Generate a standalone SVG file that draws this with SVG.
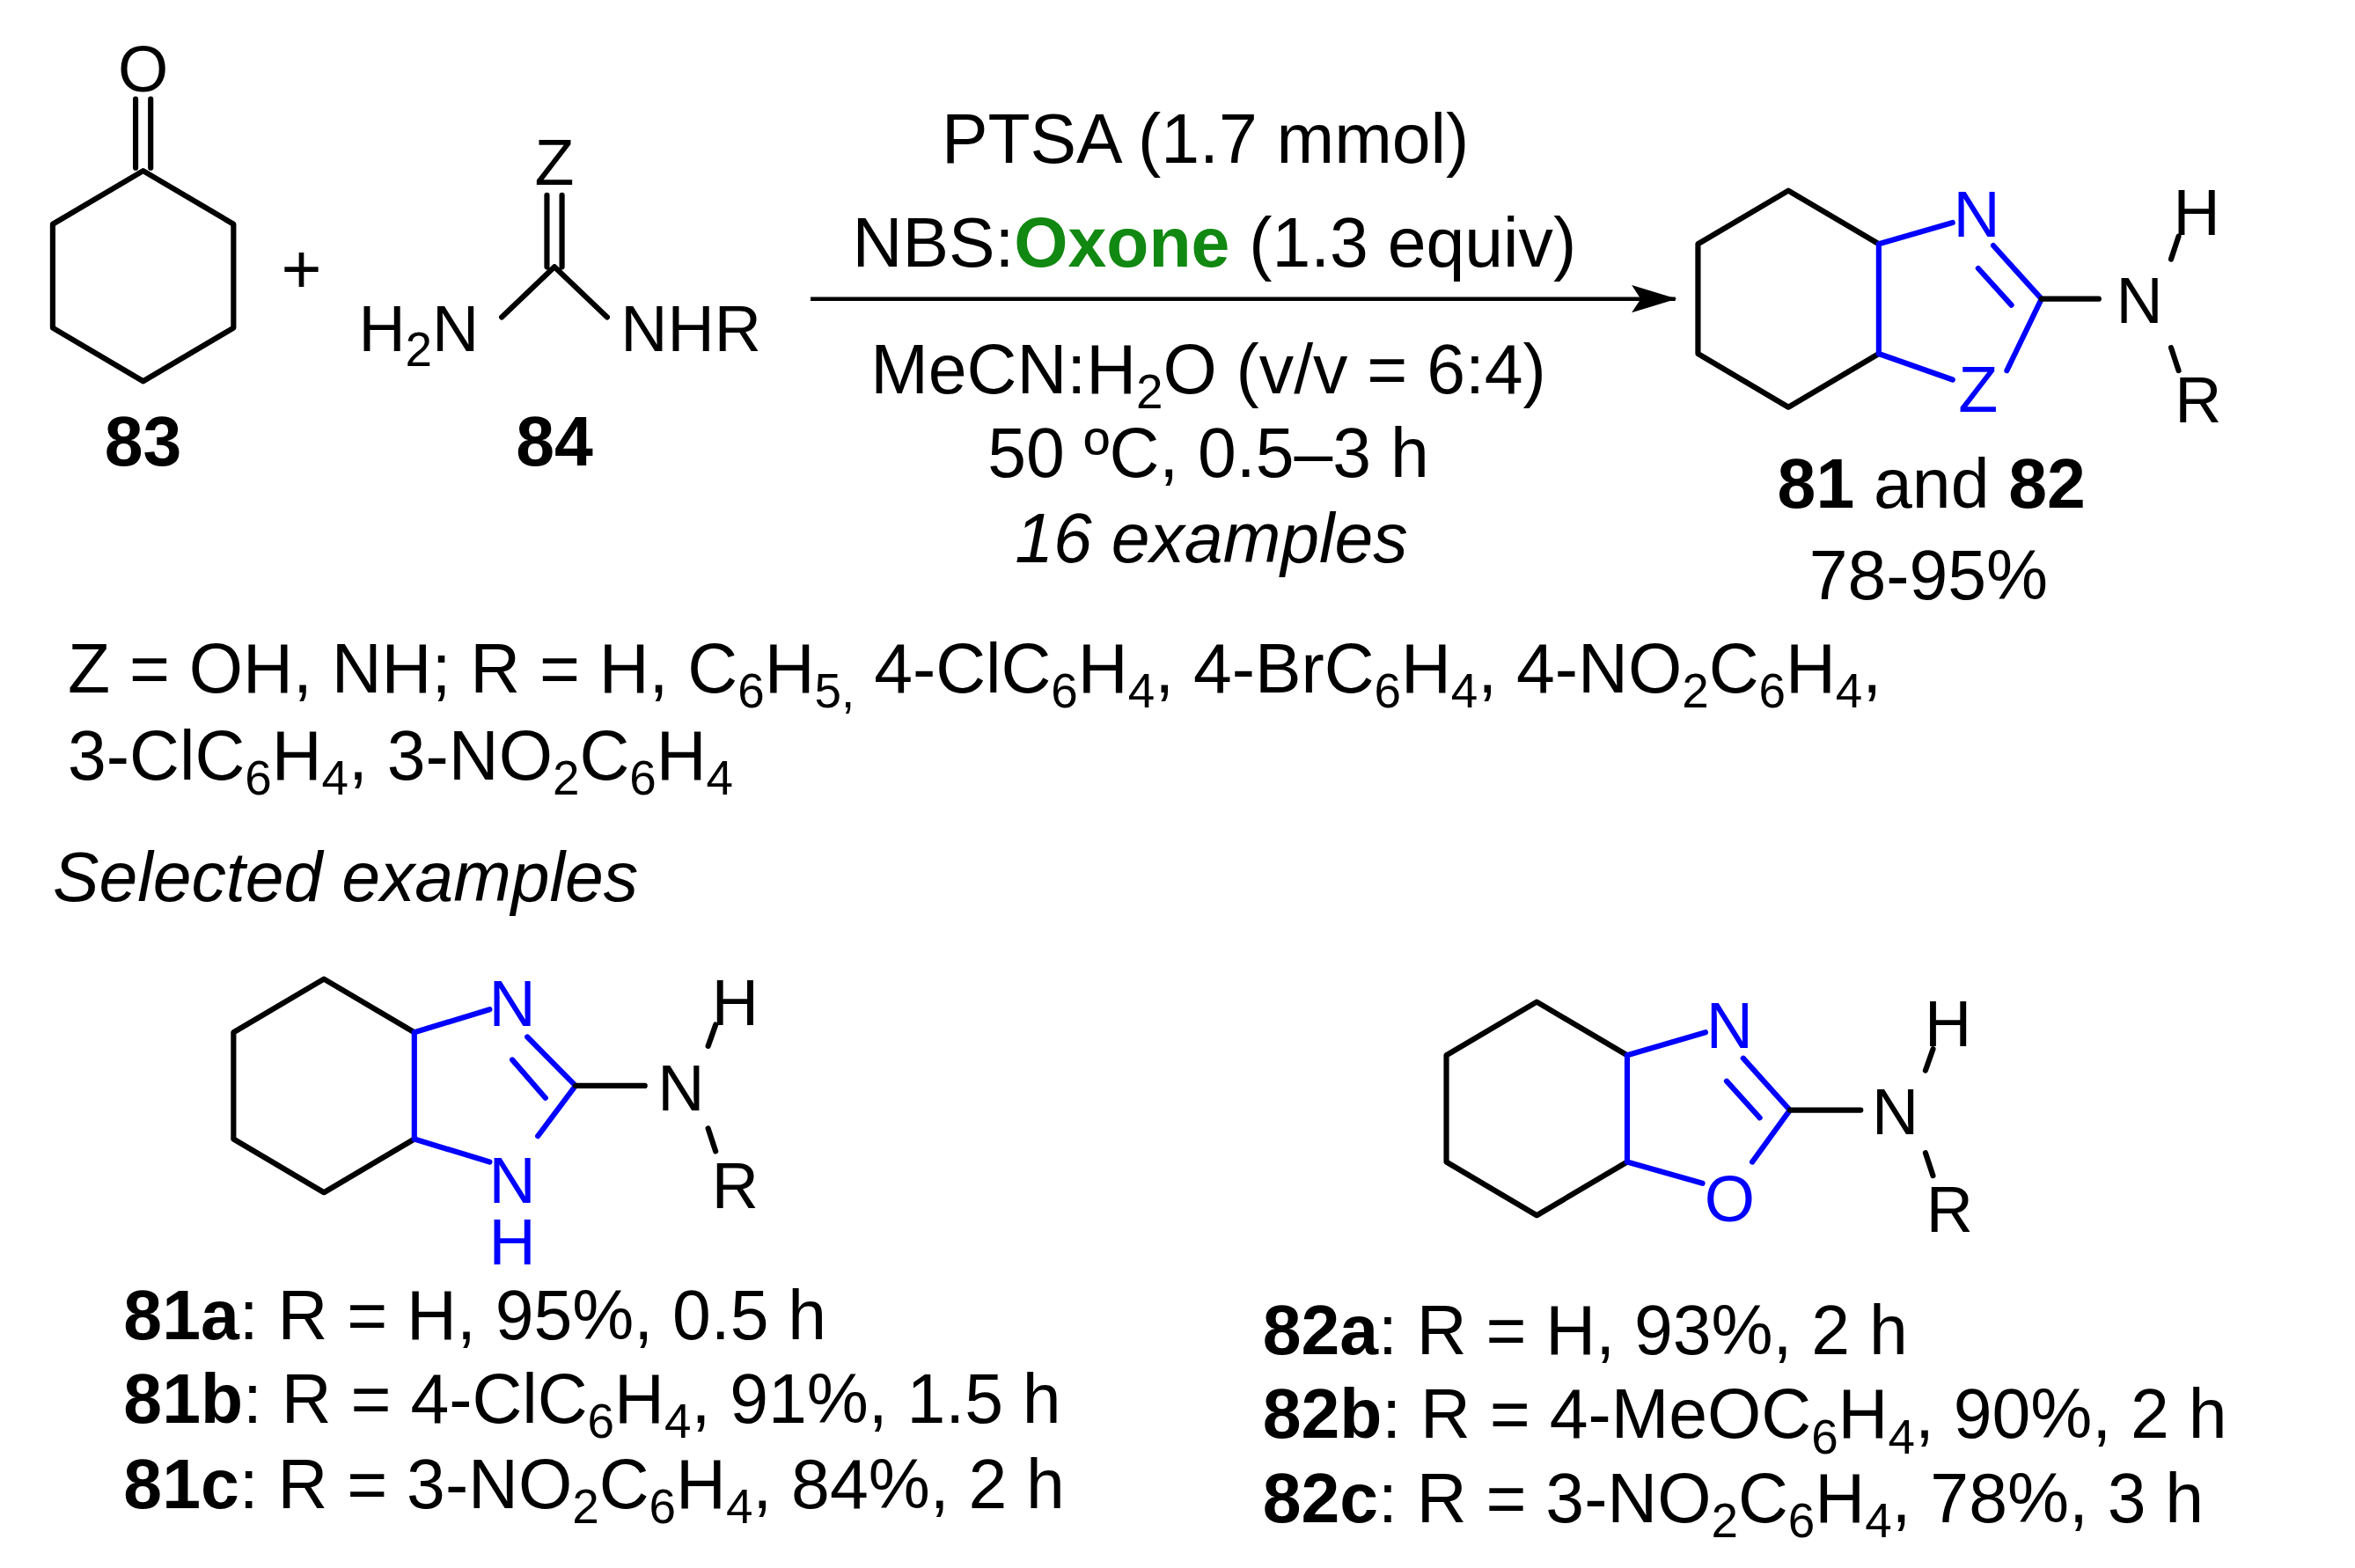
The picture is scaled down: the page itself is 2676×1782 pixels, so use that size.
<svg xmlns="http://www.w3.org/2000/svg" width="2676" height="1782" viewBox="0 0 2676 1782">
<style>
text{font-family:"Liberation Sans",Arial,sans-serif;font-size:46px;fill:#000}
.a{font-size:43px;text-anchor:middle}
.b{font-weight:bold}
.c{text-anchor:middle}
.i{font-style:italic}
.bl{fill:#0000ff}
.s{font-size:32px}
.k{stroke:#000;stroke-width:3.6;fill:none;stroke-linecap:round;stroke-linejoin:round}
.u{stroke:#0000ff;stroke-width:3.6;fill:none;stroke-linecap:round}
</style>
<defs><marker id="ah" markerWidth="30" markerHeight="18" refX="29" refY="9" orient="auto" markerUnits="userSpaceOnUse"><path d="M0,0 L30,9 L0,18 L6,9 Z" fill="#000"/></marker></defs>
<rect width="2676" height="1782" fill="#fff"/>
<g transform="scale(1.712,1.733)">
<g id="n83">
<text class="a" x="95" y="60">O</text>
<path class="k" d="M90,110 V65 M100,110 V65 M95,112 L155,147 L155,215 L95,250 L35,215 L35,147 Z"/>
<text class="c b" x="95" y="305">83</text>
</g>
<text class="c" x="200" y="192">+</text>
<g id="n84">
<text class="a" x="368" y="121">Z</text>
<path class="k" d="M363,175 V128 M373,175 V128 M368,175 L333,208 M368,175 L403,208"/>
<text x="238" y="230" style="font-size:43px">H<tspan class="s" dy="10">2</tspan><tspan dy="-10">N</tspan></text>
<text x="412" y="230" style="font-size:43px">NHR</text>
<text class="c b" x="368" y="305">84</text>
</g>
<g id="connectors">
<line x1="538" y1="196" x2="1112" y2="196" stroke="#000" stroke-width="2.6" marker-end="url(#ah)"/>
</g>
<g id="cond">
<text class="c" x="800" y="107">PTSA (1.7 mmol)</text>
<text class="c" x="806" y="175">NBS:<tspan style="fill:#118811;font-weight:bold">Oxone</tspan> (1.3 equiv)</text>
<text class="c" x="802" y="258">MeCN:H<tspan class="s" dy="10">2</tspan><tspan dy="-10">O (v/v = 6:4)</tspan></text>
<text class="c" x="802" y="313">50 ºC, 0.5–3 h</text>
<text class="c i" x="804" y="369">16 examples</text>
</g>
<g id="p81_82">
<path class="k" d="M1247,160 L1187,125 L1127,160 L1127,232 L1187,267 L1247,232"/>
<path class="u" d="M1247,160 V232 M1247,160 L1296,146 M1247,232 L1296,249 M1323,161 L1355,196 M1313,176 L1335,200 M1355,196 L1332,243"/>
<path class="k" d="M1355,196 H1393"/>
<path class="k" d="M1441,170 L1446,155 M1441,228 L1446,243"/>
<text class="a bl" x="1312" y="155">N</text>
<text class="a bl" x="1313" y="270">Z</text>
<text class="a" x="1420" y="212">N</text>
<text class="a" x="1458" y="154">H</text>
<text class="a" x="1459" y="277">R</text>
<text class="c" x="1282" y="333"><tspan class="b">81</tspan> and <tspan class="b">82</tspan></text>
<text class="c" x="1280" y="393">78-95%</text>
</g>
<g id="defs_text">
<text x="45" y="454">Z = OH, NH; R = H, C<tspan class="s" dy="10">6</tspan><tspan dy="-10">H</tspan><tspan class="s" dy="10">5,</tspan><tspan dy="-10"> 4-ClC</tspan><tspan class="s" dy="10">6</tspan><tspan dy="-10">H</tspan><tspan class="s" dy="10">4</tspan><tspan dy="-10">, 4-BrC</tspan><tspan class="s" dy="10">6</tspan><tspan dy="-10">H</tspan><tspan class="s" dy="10">4</tspan><tspan dy="-10">, 4-NO</tspan><tspan class="s" dy="10">2</tspan><tspan dy="-10">C</tspan><tspan class="s" dy="10">6</tspan><tspan dy="-10">H</tspan><tspan class="s" dy="10">4</tspan><tspan dy="-10">,</tspan></text>
<text x="45" y="511">3-ClC<tspan class="s" dy="10">6</tspan><tspan dy="-10">H</tspan><tspan class="s" dy="10">4</tspan><tspan dy="-10">, 3-NO</tspan><tspan class="s" dy="10">2</tspan><tspan dy="-10">C</tspan><tspan class="s" dy="10">6</tspan><tspan dy="-10">H</tspan><tspan class="s" dy="10">4</tspan></text>
<text class="i" x="35" y="591">Selected examples</text>
</g>
<g id="p81">
<path class="k" d="M275,677 L215,642 L155,677 L155,747 L215,782 L275,747"/>
<path class="u" d="M275,677 V747 M275,677 L325,662 M275,747 L325,762 M350,680 L382,712 M340,695 L362,720 M382,712 L357,745"/>
<path class="k" d="M382,712 H428 M470,686 L475,672 M470,740 L475,755"/>
<text class="a bl" x="340" y="673">N</text>
<text class="a bl" x="340" y="789">N</text>
<text class="a bl" x="340" y="829">H</text>
<text class="a" x="452" y="728">N</text>
<text class="a" x="488" y="672">H</text>
<text class="a" x="488" y="792">R</text>
<text x="82" y="878"><tspan class="b">81a</tspan>: R = H, 95%, 0.5 h</text>
<text x="82" y="933"><tspan class="b">81b</tspan>: R = 4-ClC<tspan class="s" dy="10">6</tspan><tspan dy="-10">H</tspan><tspan class="s" dy="10">4</tspan><tspan dy="-10">, 91%, 1.5 h</tspan></text>
<text x="82" y="989"><tspan class="b">81c</tspan>: R = 3-NO<tspan class="s" dy="10">2</tspan><tspan dy="-10">C</tspan><tspan class="s" dy="10">6</tspan><tspan dy="-10">H</tspan><tspan class="s" dy="10">4</tspan><tspan dy="-10">, 84%, 2 h</tspan></text>
</g>
<g id="p82">
<path class="k" d="M1080,692 L1020,657 L960,692 L960,762 L1020,797 L1080,762"/>
<path class="u" d="M1080,692 V762 M1080,692 L1132,677 M1080,762 L1130,776 M1157,694 L1188,728 M1146,709 L1168,733 M1188,728 L1163,762"/>
<path class="k" d="M1188,728 H1235 M1278,702 L1283,688 M1278,756 L1283,771"/>
<text class="a bl" x="1148" y="687">N</text>
<text class="a bl" x="1148" y="801">O</text>
<text class="a" x="1258" y="744">N</text>
<text class="a" x="1293" y="686">H</text>
<text class="a" x="1294" y="808">R</text>
<text x="838" y="888"><tspan class="b">82a</tspan>: R = H, 93%, 2 h</text>
<text x="838" y="943"><tspan class="b">82b</tspan>: R = 4-MeOC<tspan class="s" dy="10">6</tspan><tspan dy="-10">H</tspan><tspan class="s" dy="10">4</tspan><tspan dy="-10">, 90%, 2 h</tspan></text>
<text x="838" y="998"><tspan class="b">82c</tspan>: R = 3-NO<tspan class="s" dy="10">2</tspan><tspan dy="-10">C</tspan><tspan class="s" dy="10">6</tspan><tspan dy="-10">H</tspan><tspan class="s" dy="10">4</tspan><tspan dy="-10">, 78%, 3 h</tspan></text>
</g>
</g>
</svg>
